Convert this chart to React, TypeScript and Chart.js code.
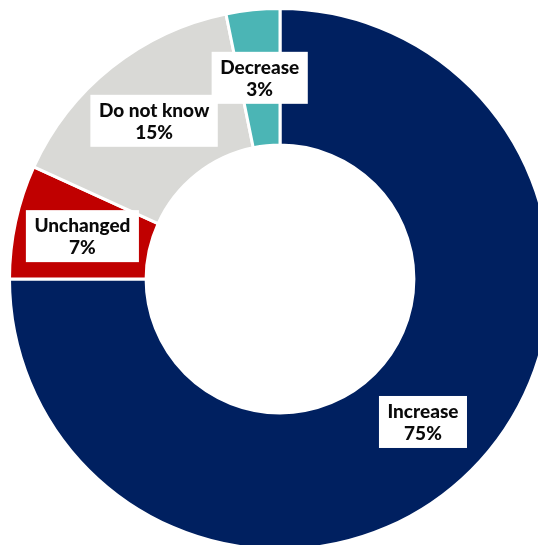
import React, { useEffect, useRef } from "react";
import { Chart, registerables } from "chart.js";

Chart.register(...registerables);

const categories = ["Increase", "Unchanged", "Do not know", "Decrease"];
const values = [75, 6.8, 15, 3.2];
const colors = ["#002060", "#C00000", "#D9D9D6", "#4BB5B5"];

const labelPlugin = {
  id: "boxLabels",
  afterDatasetsDraw(chart: any) {
    const ctx = chart.ctx;
    const meta = chart.getDatasetMeta(0);
    ctx.save();
    ctx.font = "900 19px Lato, 'DejaVu Sans', sans-serif";
    ctx.textAlign = "center";
    ctx.textBaseline = "middle";
    meta.data.forEach((arc: any, i: number) => {
      const p = arc.getCenterPoint();
      const lines = [categories[i], Math.round(values[i]) + "%"];
      const tw = Math.max(...lines.map((l) => ctx.measureText(l).width));
      const w = tw + 17;
      const h = 52;
      ctx.fillStyle = "#FFFFFF";
      ctx.fillRect(p.x - w / 2, p.y - h / 2, w, h);
      ctx.fillStyle = "#0A0A0A";
      ctx.fillText(lines[0], p.x, p.y - 10);
      ctx.fillText(lines[1], p.x, p.y + 12);
    });
    ctx.restore();
  },
};

export default function App() {
  const ref = useRef<HTMLCanvasElement>(null);
  useEffect(() => {
    if (!ref.current) return;
    const chart = new Chart(ref.current, {
      type: "doughnut",
      data: {
        labels: categories,
        datasets: [
          {
            data: values,
            backgroundColor: colors,
            borderColor: "#FFFFFF",
            borderWidth: 3,
            hoverOffset: 0,
          },
        ],
      },
      options: {
        responsive: false,
        animation: false,
        cutout: "49.5%",
        layout: { padding: 0 },
        events: [],
        plugins: {
          legend: { display: false },
          tooltip: { enabled: false },
        },
      },
      plugins: [labelPlugin],
    });
    return () => chart.destroy();
  }, []);
  return (
    <div
      style={{
        position: "fixed",
        left: 0,
        top: 0,
        right: 0,
        bottom: 0,
        overflow: "hidden",
        background: "#FFFFFF",
      }}
    >
      <canvas
        ref={ref}
        width={544}
        height={544}
        style={{ position: "absolute", left: 8, top: 7, width: 544, height: 544 }}
      />
    </div>
  );
}
